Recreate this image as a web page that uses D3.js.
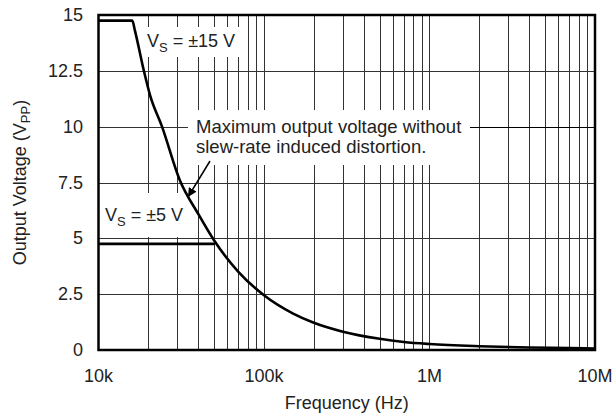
<!DOCTYPE html>
<html>
<head>
<meta charset="utf-8">
<script src="https://cdn.jsdelivr.net/npm/d3@7"></script>
<style>
  html, body { margin: 0; padding: 0; background: #fff; }
  svg { display: block; font-family: 'Liberation Sans', Arial, sans-serif; }
</style>
</head>
<body>
<div id="chart"></div>
<script>
// Output voltage vs frequency
const freq15 = [10000, 16000, 16600, 18800, 20500, 24200, 31000, 40000, 50000, 70000,
  100000, 150000, 200000, 300000, 500000, 700000, 1000000, 2000000, 4000000, 7000000, 10000000]
const volt15 = [14.75, 14.75, 14.3, 12.5, 11.4, 10, 7.6, 6.1, 4.9, 3.5,
  2.45, 1.63, 1.22, 0.82, 0.5, 0.36, 0.27, 0.17, 0.11, 0.09, 0.07]
const freq5 = [10000, 50500]
const volt5 = [4.75, 4.75]

const yTicks = [0, 2.5, 5, 7.5, 10, 12.5, 15]
const yTickLabels = ['0', '2.5', '5', '7.5', '10', '12.5', '15']
const xTicks = [1e4, 1e5, 1e6, 1e7]
const xTickLabels = ['10k', '100k', '1M', '10M']

const W = 613, H = 416
const margin = { top: 15, right: 18, bottom: 66, left: 98.5 }
const txt = '#222'

const svg = d3.select('#chart').append('svg')
  .attr('width', W)
  .attr('height', H)

const x = d3.scaleLog().domain([1e4, 1e7]).range([margin.left, W - margin.right])
const y = d3.scaleLinear().domain([0, 15]).range([H - margin.bottom, margin.top])

// minor + major vertical grid lines (2..9 in each decade)
const vGrid = []
for (let d = 1e4; d < 1e7; d *= 10) {
  for (let k = 2; k <= 9; k++) vGrid.push(d * k)
}
vGrid.push(1e5, 1e6)

svg.append('g')
  .selectAll('line')
  .data(vGrid)
  .join('line')
  .attr('x1', d => Math.round(x(d)) + 0.5)
  .attr('x2', d => Math.round(x(d)) + 0.5)
  .attr('y1', y(15))
  .attr('y2', y(0))
  .attr('stroke', '#333')
  .attr('stroke-width', 1)

svg.append('g')
  .selectAll('line')
  .data(yTicks.slice(1, -1))
  .join('line')
  .attr('x1', x(1e4))
  .attr('x2', x(1e7))
  .attr('y1', d => Math.round(y(d)) + 0.5)
  .attr('y2', d => Math.round(y(d)) + 0.5)
  .attr('stroke', '#333')
  .attr('stroke-width', 1)

// white boxes behind labels (break the grid)
const boxes = [
  { x0: 143, y0: 27, x1: 241, y1: 57 },
  { x0: 188, y0: 110, x1: 470, y1: 165 },
  { x0: 100, y0: 193, x1: 193, y1: 237 }
]
svg.append('g')
  .selectAll('rect')
  .data(boxes)
  .join('rect')
  .attr('x', d => d.x0)
  .attr('y', d => d.y0)
  .attr('width', d => d.x1 - d.x0)
  .attr('height', d => d.y1 - d.y0)
  .attr('fill', '#fff')

// curves
svg.append('path')
  .datum(freq15.map((f, i) => [f, volt15[i]]))
  .attr('d', d3.line().x(d => x(d[0])).y(d => y(d[1])).curve(d3.curveMonotoneX))
  .attr('fill', 'none')
  .attr('stroke', '#000')
  .attr('stroke-width', 2.6)

svg.append('path')
  .datum(freq5.map((f, i) => [f, volt5[i]]))
  .attr('d', d3.line().x(d => x(d[0])).y(d => y(d[1])))
  .attr('fill', 'none')
  .attr('stroke', '#000')
  .attr('stroke-width', 2.6)

// frame
svg.append('rect')
  .attr('x', x(1e4))
  .attr('y', y(15))
  .attr('width', x(1e7) - x(1e4))
  .attr('height', y(0) - y(15))
  .attr('fill', 'none')
  .attr('stroke', '#000')
  .attr('stroke-width', 2.5)

// tick labels
svg.append('g')
  .selectAll('text')
  .data(yTicks)
  .join('text')
  .attr('x', 83)
  .attr('y', d => y(d) + 6)
  .attr('text-anchor', 'end')
  .attr('font-size', '18px')
  .attr('fill', txt)
  .text((d, i) => yTickLabels[i])

svg.append('g')
  .selectAll('text')
  .data(xTicks)
  .join('text')
  .attr('x', d => x(d))
  .attr('y', 382)
  .attr('text-anchor', 'middle')
  .attr('font-size', '18px')
  .attr('fill', txt)
  .text((d, i) => xTickLabels[i])

// axis titles
svg.append('text')
  .attr('x', x(Math.sqrt(1e4 * 1e7)))
  .attr('y', 409)
  .attr('text-anchor', 'middle')
  .attr('font-size', '18px')
  .attr('fill', txt)
  .text('Frequency (Hz)')

const yt = svg.append('text')
  .attr('transform', `translate(26, ${(y(0) + y(15)) / 2}) rotate(-90)`)
  .attr('text-anchor', 'middle')
  .attr('font-size', '18px')
  .attr('fill', txt)
yt.append('tspan').text('Output Voltage (V')
yt.append('tspan').attr('font-size', '13px').attr('dy', 4).text('PP')
yt.append('tspan').attr('dy', -4).text(')')

// supply labels
function vsLabel(px, py, s) {
  const t = svg.append('text')
    .attr('x', px)
    .attr('y', py)
    .attr('font-size', '18px')
    .attr('fill', txt)
  t.append('tspan').text('V')
  t.append('tspan').attr('font-size', '13px').attr('dy', 5).text('S')
  t.append('tspan').attr('dy', -5).text(s)
}
vsLabel(147, 47, ' = ±15 V')
vsLabel(105, 221, ' = ±5 V')

// annotation
svg.append('text')
  .attr('x', 196)
  .attr('y', 133)
  .attr('font-size', '18.5px')
  .attr('fill', txt)
  .text('Maximum output voltage without')
svg.append('text')
  .attr('x', 196)
  .attr('y', 153)
  .attr('font-size', '18.5px')
  .attr('fill', txt)
  .text('slew-rate induced distortion.')

svg.append('line')
  .attr('x1', 470).attr('x2', x(1e7))
  .attr('y1', Math.round(y(10)) + 0.5).attr('y2', Math.round(y(10)) + 0.5)
  .attr('stroke', '#000')
  .attr('stroke-width', 1)

svg.append('defs').append('marker')
  .attr('id', 'arr')
  .attr('viewBox', '0 0 10 10')
  .attr('refX', 10).attr('refY', 5)
  .attr('markerWidth', 9).attr('markerHeight', 9)
  .attr('markerUnits', 'userSpaceOnUse')
  .attr('orient', 'auto')
  .append('path')
  .attr('d', 'M0,0 L10,5 L0,10 z')
  .attr('fill', '#000')

svg.append('line')
  .attr('x1', 210).attr('y1', 161)
  .attr('x2', 188).attr('y2', 197)
  .attr('stroke', '#000')
  .attr('stroke-width', 1.5)
  .attr('marker-end', 'url(#arr)')
</script>
</body>
</html>
